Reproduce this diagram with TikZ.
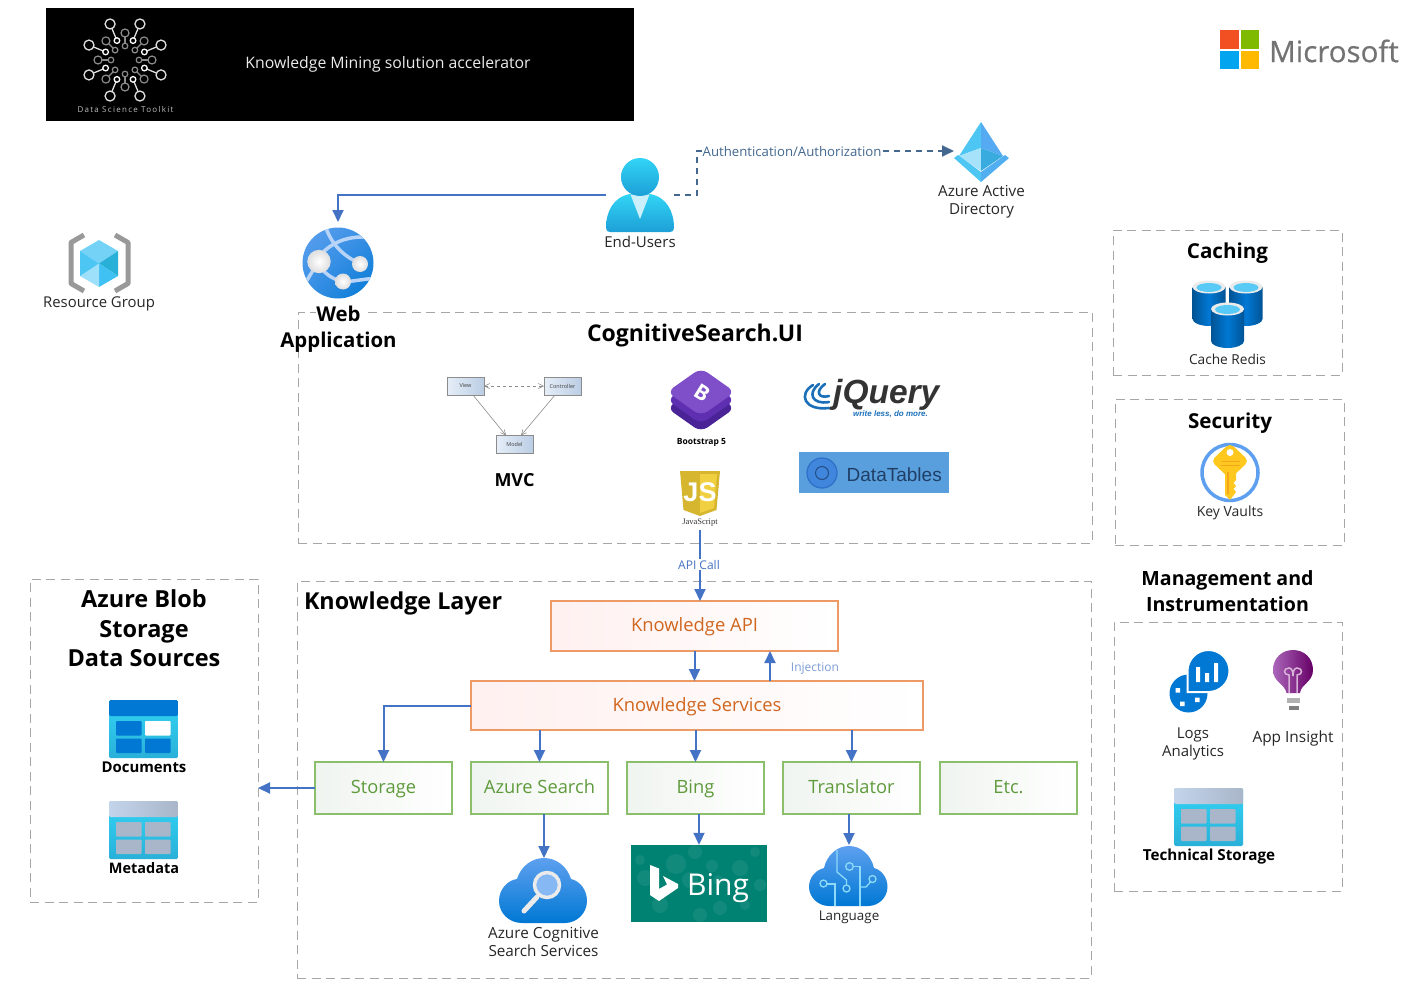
\documentclass[tikz,border=0pt]{standalone}
\usepackage{fontspec}
\setmainfont{Open Sans}
\newfontfamily\serifjs{Liberation Serif}
\newfontfamily\ljq{Liberation Sans}
\usetikzlibrary{arrows.meta,calc,shadings,shadows}
\definecolor{arrowblue}{HTML}{4472C4}
\definecolor{authblue}{HTML}{44688F}
\definecolor{dashgray}{HTML}{A6A6A6}
\definecolor{orangeline}{HTML}{ED9A66}
\definecolor{orangetext}{HTML}{D0661F}
\definecolor{greenline}{HTML}{8CBF6C}
\definecolor{greentext}{HTML}{5F9A3C}
\definecolor{azurelight}{HTML}{5EA0EF}
\definecolor{azure}{HTML}{0078D4}
\definecolor{cyanlight}{HTML}{32D4F5}
\definecolor{cyandark}{HTML}{29B0D8}
\definecolor{tgray}{HTML}{A9B6C9}
\definecolor{tgraylight}{HTML}{C3D4EB}
\definecolor{msred}{HTML}{F25022}
\definecolor{msgreen}{HTML}{7FBA00}
\definecolor{msblue}{HTML}{00A4EF}
\definecolor{msyellow}{HTML}{FFB900}
\definecolor{bingteal}{HTML}{008272}
\definecolor{dtbg}{HTML}{5A9FDD}
\definecolor{dtring}{HTML}{2F71C8}
\definecolor{dtfill}{HTML}{3F86DC}
\definecolor{dttext}{HTML}{1F3F66}
\definecolor{keygold}{HTML}{FFC81E}
\definecolor{keyorange}{HTML}{F7A51C}
\definecolor{mvclight}{HTML}{E6EEF8}
\definecolor{mvcdark}{HTML}{BBCDE4}
\definecolor{jsdark}{HTML}{D6B62E}
\definecolor{jslight}{HTML}{F0D040}
\definecolor{bs1}{HTML}{4A2496}
\definecolor{bs2}{HTML}{5E2FB0}
\definecolor{bs3}{HTML}{7E4FC8}
\definecolor{jqblue}{HTML}{1B6FB8}
\tikzset{
  t/.style 2 args={font=\fontsize{#1}{#2}\selectfont,align=center,inner sep=0pt,outer sep=0pt},
  tb/.style 2 args={font=\fontsize{#1}{#2}\selectfont\bfseries,align=center,inner sep=0pt,outer sep=0pt},
  dbox/.style={draw=dashgray,line width=1pt,dash pattern=on 9pt off 5.5pt,inner sep=0pt,outer sep=0pt},
  anchorbox/.style={inner sep=0pt,outer sep=0pt},
  orangebox/.style={draw=orangeline,line width=1.6pt,left color=orange!10!red!6!white,right color=white,
    minimum height=50pt,inner sep=0pt,outer sep=0pt,text=orangetext,text height=12pt,text depth=.6pt,font=\fontsize{18.4}{22}\selectfont},
  greenbox/.style={draw=greenline,line width=1.5pt,left color=green!30!black!6!white,right color=white,
    minimum width=137pt,minimum height=52pt,inner sep=0pt,outer sep=0pt,text=greentext,text height=11.5pt,text depth=.5pt,font=\fontsize{18.3}{22}\selectfont},
  arr/.style={draw=arrowblue,line width=2pt,-{Triangle[length=12pt,width=11pt]}},
  dasharr/.style={draw=authblue,line width=1.8pt,dash pattern=on 6pt off 5pt,-{Triangle[length=12pt,width=11pt]}},
  mvcbox/.style={draw=black!45,line width=.8pt,left color=mvclight,right color=mvcdark,
    drop shadow={shadow xshift=.8pt,shadow yshift=-.8pt,fill=black!35,opacity=.7},
    minimum width=37pt,minimum height=18pt,inner sep=0pt,outer sep=0pt,text=black!75,font=\fontsize{5.5}{6}\selectfont},
  mvcarr/.style={draw=black!45,line width=.6pt,-{Straight Barb[length=5pt,width=5pt]}},
}
\newcommand\tableicon[5]{% x y header-left header-right cell
  \begin{scope}[shift={(#1,#2)}]
    \shade[top color=cyanlight,bottom color=cyandark,rounded corners=1.5pt] (0,0) rectangle (69,58);
    \shade[left color=#3,right color=#4,rounded corners=1.5pt] (0,0) rectangle (69,16);
    \fill[#5,rounded corners=.8pt] (7,21) rectangle (32.5,35.5);
    \fill[#5,rounded corners=.8pt] (7,38.5) rectangle (32.5,53);
    \fill[#5,rounded corners=.8pt] (36,38.5) rectangle (61.5,53);
  \end{scope}}
\newcommand\cyl[2]{% x y of the top-left of a cylinder
  \begin{scope}[shift={(#1,#2)}]
    \shade[left color=azure!70!black,right color=azure!70!black,middle color=azure]
      (0,6) -- (0,38) .. controls (0,42) and (8,45) .. (16.5,45) .. controls (25,45) and (33,42) .. (33,38) -- (33,6) -- cycle;
    \fill[black!8] (16.5,6) ellipse (16.5 and 6.5);
    \fill[cyan!65!white] (16.5,6.5) ellipse (12.5 and 4.5);
  \end{scope}}
\begin{document}
\begin{tikzpicture}[x=1pt,y=-1pt]
\useasboundingbox (0,0) rectangle (1414,998);

% --- banner -------------------------------------------------------------
\node[fill=black,minimum width=588pt,minimum height=113pt,inner sep=0pt] (banner) at (340,64.5) {};
\foreach \a in {22.5,67.5,...,337.5}{
  \draw[black!12,line width=1.3pt] ({125+21*cos(\a)},{60+21*sin(\a)}) -- ({125+39*cos(\a)},{60+39*sin(\a)});
  \draw[black!12,line width=1.3pt,fill=black] ({125+39*cos(\a)},{60+39*sin(\a)}) circle (5);
  \draw[white,line width=1.3pt,fill=black] ({125+21*cos(\a)},{60+21*sin(\a)}) circle (2.8);
}
\foreach \a in {0,45,...,315}{
  \draw[black!45,line width=1.2pt] ({125+14*cos(\a)},{60+14*sin(\a)}) -- ({125+27*cos(\a)},{60+27*sin(\a)});
  \draw[black!45,line width=1.2pt,fill=black] ({125+27*cos(\a)},{60+27*sin(\a)}) circle (4);
  \draw[black!45,line width=1.2pt,fill=black] ({125+14*cos(\a)},{60+14*sin(\a)}) circle (2.8);
}
\node[t={8}{10},text=black!25] (dst) at (125.5,110) {\addfontfeature{LetterSpace=16}Data Science Toolkit};
\node[t={15.8}{20},text=black!8] (kmtitle) at (388,64) {Knowledge Mining solution accelerator};

% --- Microsoft ----------------------------------------------------------
\fill[msred] (1220,30.5) rectangle (1238.5,49);
\fill[msgreen] (1240.5,30.5) rectangle (1258.5,49);
\fill[msblue] (1220,51) rectangle (1238.5,69.5);
\fill[msyellow] (1240.5,51) rectangle (1258.5,69.5);
\node[t={29.5}{34},text=black!55] (ms) at (1334,51) {\addfontfeature{FakeBold=0.6}Microsoft};

% --- dashed containers --------------------------------------------------
\node[dbox,minimum width=794pt,minimum height=231pt] (ui) at (695,427.5) {};
\node[dbox,minimum width=794pt,minimum height=397pt] (kl) at (694,779.5) {};
\node[dbox,minimum width=228pt,minimum height=323pt] (blob) at (144,740.5) {};
\node[dbox,minimum width=229pt,minimum height=145pt] (cache) at (1227.5,302.5) {};
\node[dbox,minimum width=229pt,minimum height=146pt] (sec) at (1229.5,472) {};
\node[dbox,minimum width=228pt,minimum height=269pt] (mgmt) at (1228,756.5) {};

% --- resource group -----------------------------------------------------
\draw[black!40,line width=5pt,line join=round] (84,235) -- (71,242.5) -- (71,283.5) -- (84,291);
\draw[black!40,line width=5pt,line join=round] (115,235) -- (128,242.5) -- (128,283.5) -- (115,291);
\fill[cyan!55!white] (99,240) -- (118,251) -- (99,263.5) -- (80,251) -- cycle;
\fill[cyandark] (118,251) -- (118,276) -- (99,263.5) -- cycle;
\fill[cyan!75!white] (118,276) -- (99,287) -- (99,263.5) -- cycle;
\fill[cyan!38!white] (80,276) -- (99,287) -- (99,263.5) -- cycle;
\fill[cyan!70!white] (80,251) -- (80,276) -- (99,263.5) -- cycle;
\node[t={14.9}{18},text=black!85] (rg) at (99,303.5) {Resource Group};

% --- web app icon -------------------------------------------------------
\node[anchorbox,minimum width=72pt,minimum height=82pt] (web) at (338,263) {};
\begin{scope}
  \shade[upper left=azurelight,lower right=azure,upper right=azurelight!60!azure,lower left=azurelight!60!azure] (338,263) circle (35.5);
  \clip (338,263) circle (35.5);
  \draw[azurelight!45!white,line width=3.5pt] (318,258) .. controls (330,242) and (350,234) .. (375,238);
  \draw[azurelight!45!white,line width=3.5pt] (326,228) .. controls (332,245) and (345,258) .. (362,264);
  \draw[azurelight!45!white,line width=3.5pt] (318,262) .. controls (322,272) and (332,280) .. (345,282);
  \draw[azurelight!45!white,line width=3.5pt] (318,262) -- (306,282);
  \draw[azurelight!45!white,line width=3.5pt] (345,282) -- (375,278);
\end{scope}
\shade[inner color=white,outer color=black!13] (319,261.5) circle (11.7);
\shade[inner color=white,outer color=black!13] (360,264) circle (8);
\shade[inner color=white,outer color=black!13] (343,281.5) circle (8);
\fill[white] (316,305) rectangle (365,323);
\fill[white] (281,330) rectangle (396,351);
\node[tb={20.4}{26}] (weblabel) at (338.5,329) {Web\\Application};

% --- end user icon ------------------------------------------------------
\node[anchorbox,minimum width=68pt,minimum height=20pt] (user) at (640,195) {};
\shade[top color=cyanlight,bottom color=cyandark!70!azure] (606,228) .. controls (606,212) and (613,197) .. (630,194) -- (650,194) .. controls (667,197) and (674,212) .. (674,228) .. controls (674,231) and (672,232) .. (670,232) -- (610,232) .. controls (608,232) and (606,231) .. (606,228) -- cycle;
\fill[cyan!20!white] (630.5,194.5) -- (649.5,194.5) -- (640,219) -- cycle;
\shade[top color=cyanlight,bottom color=cyandark!70!azure] (640,177) circle (19);
\node[t={15}{18},text=black!85] (userlabel) at (640,242) {End-Users};

% --- AAD icon -----------------------------------------------------------
\node[anchorbox,minimum width=55pt,minimum height=60pt] (aad) at (981.5,151) {};
\fill[cyan!70!white] (981,122) -- (959,156) -- (981,148) -- cycle;
\fill[azurelight!90!cyan] (981,122) -- (1003,156) -- (981,148) -- cycle;
\fill[cyan!35!white] (959,156) -- (981,148) -- (981,171) -- cycle;
\fill[cyandark!70!azurelight] (1003,156) -- (981,148) -- (981,171) -- cycle;
\fill[cyan!70!white] (954,158) -- (958,155) -- (981,172) -- (981,182) -- cycle;
\fill[azurelight!85!cyan] (1009,158) -- (1005,155) -- (981,172) -- (981,182) -- cycle;
\node[t={15.2}{18},text=black!85] (aadlabel) at (981.5,201.5) {Azure Active\\Directory};

% --- cognitive search UI ------------------------------------------------
\node[tb={23}{28}] (uititle) at (695,336) {CognitiveSearch.UI};

\node[mvcbox] (view) at (465.5,386) {View};
\node[mvcbox] (ctrl) at (562.5,386) {Controller};
\node[mvcbox] (model) at (514.5,444.5) {Model};
\draw[black!45,line width=.6pt,dashed,{Straight Barb[length=5pt,width=5pt]}-{Straight Barb[length=5pt,width=5pt]}] (view) -- (ctrl);
\draw[mvcarr] ($(view.south)+(7.5,0)$) -- ($(model.north)+(-8.5,0)$);
\draw[mvcarr] ($(ctrl.south)+(-7.5,0)$) -- ($(model.north)+(6.5,0)$);
\node[tb={18}{20}] (mvc) at (514.5,480) {MVC};

% Bootstrap
\foreach \dy/\c in {16/bs1,8/bs2,0/bs3}{
  \fill[\c,rounded corners=8pt] (701,{368+\dy}) -- (735,{392+\dy}) -- (701,{416+\dy}) -- (667,{392+\dy}) -- cycle;
}
\node[tb={21}{22},text=white,rotate=-32] (bsb) at (702,393) {B};
\node[tb={8.5}{10}] (bslabel) at (701.5,442) {Bootstrap 5};

% jQuery
\draw[jqblue,line width=2.6pt,line cap=round] (813,385) .. controls (798,394) and (804,411) .. (829,408);
\draw[jqblue,line width=2.6pt,line cap=round] (819,384) .. controls (807,393) and (812,405) .. (829,402);
\draw[jqblue,line width=2.6pt,line cap=round] (825,384) .. controls (815,391) and (818,399) .. (829,396);
\node[anchor=base west,inner sep=0pt,text=black!80,font=\fontsize{33.5}{35}\selectfont\ljq\bfseries\itshape] (jq) at (833,403) {jQuery};
\node[anchor=center,inner sep=0pt,text=jqblue,font=\fontsize{8}{9}\selectfont\ljq\bfseries\itshape] (jqs) at (890.5,414.5) {write less, do more.};

% DataTables
\node[fill=dtbg,minimum width=150pt,minimum height=41pt,inner sep=0pt] (dt) at (874,472.5) {};
\draw[dtring,line width=1.3pt,fill=dtfill] (822,473) circle (15);
\draw[dttext!70!dtring,line width=1pt] (822,473) circle (6.5);
\node[anchor=west,inner sep=0pt,text=dttext,font=\fontsize{19}{22}\selectfont\ljq] (dtl) at (846.5,474.5) {DataTables};

% JavaScript
\node[anchorbox,minimum width=40pt,minimum height=60pt] (js) at (700,500) {};
\fill[jsdark] (680,471) -- (720,471) -- (716.5,510) -- (700,516) -- (683.5,510) -- cycle;
\fill[jslight] (700,474) -- (717,474) -- (714,508) -- (700,513) -- cycle;
\node[inner sep=0pt,text=white,font=\fontsize{27}{28}\selectfont\ljq\bfseries] (jsl) at (700,492) {JS};
\node[inner sep=0pt,font=\fontsize{8.5}{10}\selectfont\serifjs,text=black!80] (jsname) at (700,522.5) {JavaScript};

% --- caching ------------------------------------------------------------
\node[tb={20.6}{26}] (cachet) at (1227.5,253) {Caching};
\cyl{1192.5}{281}
\cyl{1229.5}{281}
\cyl{1211}{303}
\node[t={13.7}{17},text=black!85] (cachel) at (1227.5,359) {Cache Redis};

% --- security -----------------------------------------------------------
\node[tb={20.6}{26}] (sect) at (1230,423.5) {Security};
\draw[azurelight,line width=3.5pt,fill=white] (1230,472.5) circle (28);
\fill[keygold,rounded corners=5pt] (1230,443) -- (1249,461) -- (1230,479) -- (1211,461) -- cycle;
\fill[keygold] (1225,470) -- (1236,470) -- (1236,480) -- (1233.5,483) -- (1236,486) -- (1233.5,489) -- (1236,492) -- (1230,500) -- (1225,495) -- cycle;
\fill[white] (1230,452.5) circle (3.5);
\draw[keyorange,line width=1pt] (1221,461) -- (1240,461) (1221,465) -- (1240,465);
\draw[keyorange,line width=1.3pt] (1228,472) -- (1228,494);
\node[t={14}{17},text=black!85] (secl) at (1230,513) {Key Vaults};

% --- management ---------------------------------------------------------
\node[tb={19.6}{26}] (mgmtt) at (1227.5,591) {Management and\\Instrumentation};
\fill[azure] (1188.5,693.5) circle (19);
\fill[azure,draw=white,line width=2pt] (1187.5,692) -- (1187.5,671) .. controls (1187.5,659.4) and (1196.9,650) .. (1208.5,650) .. controls (1220.1,650) and (1229.5,659.4) .. (1229.5,671) .. controls (1229.5,682.6) and (1220.1,692) .. (1208.5,692) -- cycle;
\fill[white] (1196,667) rectangle (1200,682) (1205,673) rectangle (1209,682) (1214,663) rectangle (1218,682);
\fill[white] (1175.5,688) rectangle (1180,692.5) (1195,697.5) rectangle (1199.5,702) (1180,701.5) rectangle (1184.5,706);
\node[t={15}{18},text=black!85] (logsl) at (1193,744) {Logs\\Analytics};
% bulb
\shade[left color=purple!60!blue!60!white,right color=violet!80!black] (1286.5,693) .. controls (1285,684) and (1273,682) .. (1273,670) .. controls (1273,658) and (1282,650) .. (1293,650) .. controls (1304,650) and (1313,658) .. (1313,670) .. controls (1313,682) and (1301,684) .. (1300,693) -- cycle;
\draw[violet!30!white,line width=1.5pt] (1289,693) -- (1289,675) .. controls (1283,675) and (1283,668) .. (1289,668) .. controls (1292,668) and (1293,672) .. (1293,676) .. controls (1293,672) and (1294,668) .. (1297,668) .. controls (1303,668) and (1303,675) .. (1297,675) -- (1297,693);
\fill[black!30] (1287,698) rectangle (1300,702.5);
\fill[black!50] (1288.5,706) rectangle (1298.5,709.5);
\node[t={15.4}{18},text=black!85] (appl) at (1293,738) {App Insight};
\tableicon{1174}{788}{tgraylight}{tgray}{tgray}
\fill[tgray,rounded corners=.8pt] (1210,809) rectangle (1235.5,823.5);
\node[tb={15.2}{18}] (techl) at (1209,856.5) {Technical Storage};

% --- blob ---------------------------------------------------------------
\node[tb={23.5}{29.5}] (blobt) at (144,628.5) {Azure Blob\\Storage\\Data Sources};
\tableicon{109}{700}{azure}{azure}{azure}
\fill[white,rounded corners=.8pt] (145,721) rectangle (170.5,735.5);
\node[tb={14.9}{18}] (docl) at (144,767) {Documents};
\tableicon{109}{801}{tgraylight}{tgray}{tgray}
\fill[tgray,rounded corners=.8pt] (145,822) rectangle (170.5,836.5);
\node[tb={14.5}{18}] (metal) at (144,868) {Metadata};

% --- knowledge layer ----------------------------------------------------
\node[tb={23.3}{28},anchor=west] (klt) at (304,603.5) {Knowledge Layer};
\node[orangebox,minimum width=287pt] (kapi) at (694.5,626) {Knowledge API};
\node[orangebox,minimum width=452pt,minimum height=49pt] (ks) at (697,705.5) {Knowledge Services};
\node[greenbox] (stor) at (383.5,788) {Storage};
\node[greenbox] (as) at (539.5,788) {Azure Search};
\node[greenbox] (bing) at (695.5,788) {Bing};
\node[greenbox] (tr) at (851.5,788) {Translator};
\node[greenbox] (etc) at (1008.5,788) {Etc.};

% Cognitive Search cloud
\node[anchorbox,minimum width=88pt,minimum height=65pt] (acs) at (544,890.5) {};
\shade[top color=azurelight,bottom color=azure] (522,923) .. controls (509,923) and (499,913) .. (499,901) .. controls (499,889) and (508,880) .. (517,879) .. controls (521,866) and (532,858) .. (544,858) .. controls (556,858) and (567,866) .. (571,879) .. controls (580,881) and (587,890) .. (587,901) .. controls (587,913) and (577,923) .. (565,923) -- cycle;
\draw[black!8,line width=5pt,line cap=round] (537,897) -- (524,911);
\draw[black!8,line width=3.5pt,fill=azurelight!75!white] (547,885) circle (12.5);
\node[t={15.3}{18},text=black!85] (acsl) at (543.5,941.5) {Azure Cognitive\\Search Services};

% Bing tile
\node[fill=bingteal,minimum width=136pt,minimum height=77pt,inner sep=0pt] (bingtile) at (699,883.5) {};
\foreach \cx/\cy/\r in {695/852/7,676/864/10,712/866/6,645/878/8,740/868/8,755/852/5,700/915/7,720/908/7,660/905/8,745/905/5,640/860/5,760/885/6,690/880/8,718/880/5}{
  \fill[white,opacity=.07] (\cx,\cy) circle (\r);
}
\fill[white] (650,865) -- (659,868.5) -- (659,889) -- (667,884.5) -- (663,876) -- (678,884) -- (678,888) -- (659,901) -- (650,895) -- cycle;
\node[t={30}{36},text=white] (bingw) at (718,888) {Bing};

% Language cloud
\node[anchorbox,minimum width=78pt,minimum height=60pt] (lang) at (849,875) {};
\shade[top color=azurelight,bottom color=azure] (829,906) .. controls (818,906) and (809,897) .. (809,887) .. controls (809,877) and (816,870) .. (824,868) .. controls (827,855) and (837,846) .. (849,846) .. controls (861,846) and (871,855) .. (874,868) .. controls (882,870) and (887.5,878) .. (887.5,887) .. controls (887.5,897) and (879,906) .. (868,906) -- cycle;
\begin{scope}[draw=cyan!45!white,line width=1.3pt]
  \draw (837,850) -- (837,872) -- (846.5,880) -- (846.5,885);
  \draw (846.5,888.5) circle (3.5);
  \draw (823.5,883.5) circle (3.5);
  \draw (827,884) -- (835,884) -- (835,906);
  \draw (849.5,866.5) circle (3.8);
  \draw (853.5,866.5) -- (860,866.5) -- (860,906);
  \draw (872.5,879) circle (3.5);
  \draw (870.5,882) -- (866,887) -- (860,887);
\end{scope}
\node[t={13.4}{17},text=black!85] (langl) at (849,917) {Language};

% --- connectors ---------------------------------------------------------
\draw[arr] (user.west) -| (web.north);
\coordinate (authx) at (697,151);
\draw[dasharr] (user.east) -- (user.east -| authx) -- (authx |- aad.west) -- node[pos=.37,t={13.2}{16},fill=white,text=authblue,inner xsep=1pt,yshift=-1pt] (authl) {Authentication/Authorization} (aad.west);
\draw[arr] (js.south) -- node[pos=.49,t={12}{14},fill=white,text=arrowblue,inner ysep=1pt,xshift=-1pt] (apil) {API Call} (js.south |- kapi.north);
\draw[arr] (kapi.south) -- (kapi.south |- ks.north);
\coordinate (injx) at (770,666);
\draw[arr] (injx |- ks.north) -- (injx |- kapi.south);
\node[t={12}{14},text=arrowblue!70!white] (injl) at (815,669) {Injection};
\draw[arr] (ks.west) -| (stor.north);
\draw[arr] (ks.south -| as.north) -- (as.north);
\draw[arr] (ks.south -| bing.north) -- (bing.north);
\draw[arr] (ks.south -| tr.north) -- (tr.north);
\draw[arr] (stor.west) -- (stor.west -| blob.east);
\draw[arr] (as.south -| acs.north) -- (acs.north);
\draw[arr] (bing.south -| bingtile.north) -- (bingtile.north);
\draw[arr] (tr.south -| lang.north) -- (lang.north);
\end{tikzpicture}
\end{document}
